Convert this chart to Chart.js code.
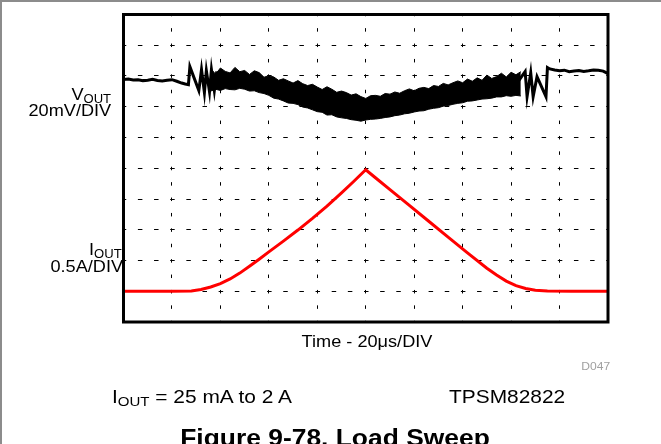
<!DOCTYPE html>
<html>
<head>
<meta charset="utf-8">
<script src="https://cdn.jsdelivr.net/npm/chart.js@4"></script>
<style>
body{margin:0;background:#fff}
#wrap{position:relative;width:661px;height:444px;overflow:hidden;background:#fff}
#wrap canvas{position:absolute;left:0;top:0}
.edge{position:absolute;background:#8c8c8c}
.lbl{position:absolute;font-family:"Liberation Sans",Arial,sans-serif;line-height:1;white-space:nowrap;color:#000}
.lbl sub{font-size:0.72em;vertical-align:baseline;position:relative;top:0.22em}
.r{transform:scaleX(1.1);transform-origin:right center}
.l{transform:scaleX(1.1);transform-origin:left center}
.c{transform:translateX(-50%) scaleX(1.1)}
</style>
</head>
<body>
<div id="wrap">
<canvas id="scope" width="661" height="444"></canvas>
<div class="edge" style="left:0;top:0;width:661px;height:2px"></div>
<div class="edge" style="left:0;top:0;width:2px;height:444px"></div>
<div class="lbl r" style="right:550px;top:86px;font-size:16.5px">V<sub>OUT</sub></div>
<div class="lbl r" style="right:550px;top:102px;font-size:16.5px">20mV/DIV</div>
<div class="lbl r" style="right:539px;top:241px;font-size:16.5px">I<sub>OUT</sub></div>
<div class="lbl r" style="right:538px;top:258px;font-size:16.5px">0.5A/DIV</div>
<div class="lbl c" style="left:367px;top:333px;font-size:16.5px">Time - 20μs/DIV</div>
<div class="lbl r" style="right:51px;top:361px;font-size:11px;color:#a0a0a0">D047</div>
<div class="lbl l" style="left:112px;top:386.5px;font-size:19px">I<sub>OUT</sub> = 25 mA to 2 A</div>
<div class="lbl l" style="left:449px;top:386.5px;font-size:19px">TPSM82822</div>
<div class="lbl c" style="left:335px;top:426px;font-size:24px;font-weight:bold">Figure 9-78. Load Sweep</div>
</div>
<script>
// time axis, 20 us/div over 10 divisions
let timeMin=0
let timeMax=200
// VOUT in mV from the reference level, 20 mV/div
let voutMin=-160
let voutMax=40
// IOUT in A, 0.5 A/div
let ioutMin=-0.475
let ioutMax=4.525

// VOUT before the load ramp, including the ringing at the start of the sweep
let voutStartTime=[0,2,4,6,8,10,12,14,16,18,20,22,24,25.5,26.8,27.4,31.1,32.2,33.4,34.2,35.5,36.3,37.5,38.5]
let voutStart=[-2.3,-2.0,-2.6,-2.4,-3.0,-2.7,-2.2,-2.9,-3.3,-2.8,-2.4,-3.4,-4.6,-5.2,-5.6,6.1,-9.5,4.2,-10.8,3.5,-10.2,4.2,-9.5,3.0]

// noisy part of VOUT during the sweep: upper and lower edge of the band
let bandTime=[36,38,40,42,44,46,48,50,52,54,56,58,60,62,64,66,68,70,72,74,76,78,80,82,84,86,88,90,92,94,96,98,100,102,104,106,108,110,112,114,116,118,120,122,124,126,128,130,132,134,136,138,140,142,144,146,148,150,152,154,156,158,160,162,164]
let bandHigh=[4.8,1.2,5.2,3.0,2.0,5.6,2.8,3.6,1.0,3.4,2.2,-0.8,0.2,-0.6,-2.8,-1.8,-3.2,-4.6,-3.0,-5.0,-6.2,-5.4,-7.2,-8.8,-7.0,-8.6,-10.6,-9.8,-10.8,-12.4,-11.6,-13.4,-14.6,-12.8,-12.6,-13.2,-11.4,-11.8,-10.4,-11.2,-9.6,-8.4,-9.6,-8.0,-7.4,-8.2,-6.2,-6.8,-4.8,-5.8,-4.4,-3.2,-4.4,-2.0,-3.4,-1.2,-2.8,0.6,-1.6,-0.4,1.8,-0.6,2.4,0.8,2.8]
let bandLow=[-9.8,-8.6,-9.4,-8.2,-8.8,-9.0,-8.0,-8.6,-9.8,-9.6,-10.8,-11.4,-12.6,-14.4,-15.0,-16.2,-17.6,-17.8,-18.6,-20.2,-20.8,-22.0,-23.2,-23.6,-25.4,-25.2,-26.6,-27.2,-27.6,-28.4,-28.8,-29.4,-28.6,-28.2,-28.0,-27.6,-27.0,-26.6,-25.8,-25.4,-24.6,-24.2,-23.4,-22.8,-22.6,-21.6,-21.0,-20.6,-19.6,-19.2,-18.4,-17.8,-17.4,-16.4,-16.2,-15.6,-15.0,-14.8,-14.4,-13.6,-13.6,-12.8,-13.2,-12.6,-13.0]

// VOUT at the end of the sweep and after the load step back
let voutEndTime=[162,165.8,166.6,168.1,169.1,170.7,174.4,175,176,178,180,182,184,186,188,190,192,194,196,198,200]
let voutEnd=[-5.6,2.9,-13.4,2.2,-13.4,-0.4,-13.4,5.5,4.6,3.9,3.4,3.8,2.8,3.2,3.6,3.0,3.4,3.9,3.7,3.2,1.6]

// IOUT sweep 25 mA -> 2 A -> 25 mA
let ioutTime=[0,10,20,28,32,36,40,44,48,52,56,60,66,72,78,84,90,95,100,104,110,118,126,134,142,150,154,158,162,166,170,175,185,200]
let iout=[0.025,0.025,0.025,0.03,0.055,0.095,0.15,0.225,0.32,0.43,0.545,0.665,0.84,1.02,1.21,1.41,1.625,1.81,2.0,1.871,1.678,1.42,1.163,0.905,0.648,0.4,0.29,0.19,0.115,0.07,0.042,0.03,0.025,0.025]

function pts(xs,ys){
return xs.map((x,i)=>({x:x,y:ys[i]}))
}

// thick border round the plot area
let frame={
id:"frame",
afterDatasetsDraw(chart){
let a=chart.chartArea
let c=chart.ctx
c.save()
c.strokeStyle="#000"
c.lineWidth=3
c.strokeRect(a.left,a.top,a.right-a.left,a.bottom-a.top)
c.restore()
}
}

let ctx=document.getElementById("scope")
new Chart(ctx,{
type:"line",
data:{
datasets:[
{data:pts(bandTime,bandHigh),borderColor:"#000",borderWidth:1,fill:false,yAxisID:"y"},
{data:pts(bandTime,bandLow),borderColor:"#000",borderWidth:1,backgroundColor:"#000",fill:"-1",yAxisID:"y"},
{data:pts(voutStartTime,voutStart),borderColor:"#000",borderWidth:3,fill:false,yAxisID:"y"},
{data:pts(voutEndTime,voutEnd),borderColor:"#000",borderWidth:3,fill:false,yAxisID:"y"},
{data:pts(ioutTime,iout),borderColor:"#ff0000",borderWidth:3,fill:false,yAxisID:"yI"}
]
},
options:{
responsive:false,
animation:false,
layout:{padding:{left:123.5,top:14.5,right:53,bottom:122}},
plugins:{legend:{display:false},tooltip:{enabled:false}},
elements:{point:{radius:0},line:{tension:0}},
scales:{
x:{
type:"linear",min:timeMin,max:timeMax,
ticks:{display:false,stepSize:20},
grid:{color:"#000",lineWidth:1,drawTicks:false},
border:{display:false,dash:[3.5,11.9],dashOffset:1.75}
},
y:{
min:voutMin,max:voutMax,
ticks:{display:false,stepSize:20},
grid:{color:"#000",lineWidth:1,drawTicks:false},
border:{display:false,dash:[4.5,11.65],dashOffset:2.25}
},
yI:{display:false,min:ioutMin,max:ioutMax}
}
},
plugins:[frame]
})
</script>
</body>
</html>
